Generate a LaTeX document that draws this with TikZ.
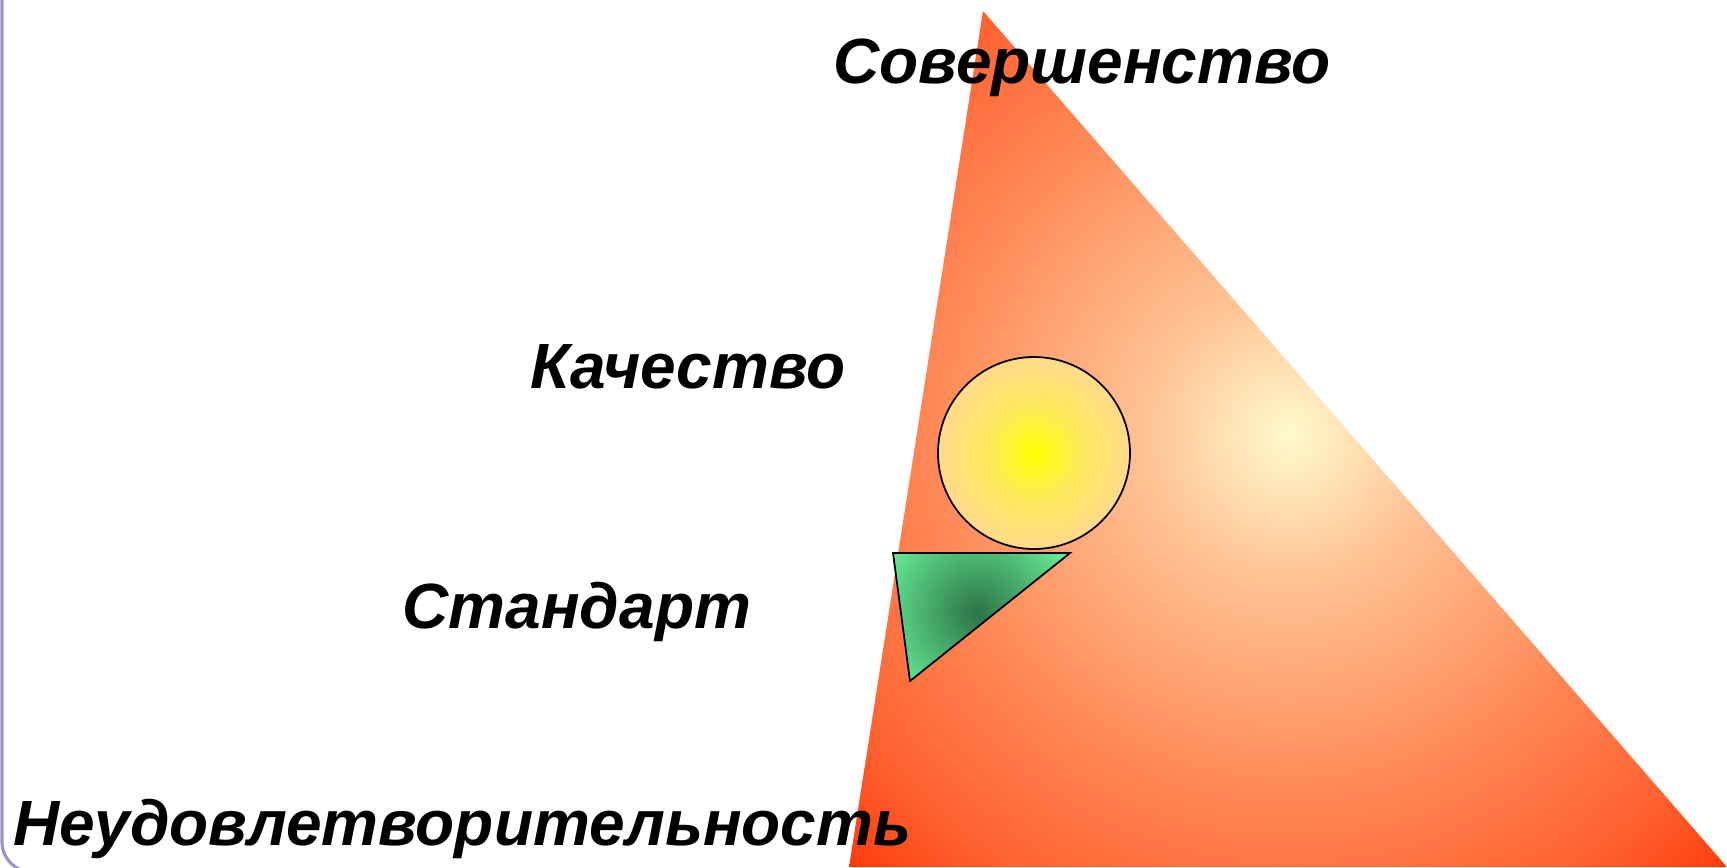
\documentclass[tikz,border=0pt]{standalone}
\usepackage{fontspec}
\setmainfont{Liberation Sans}
\usetikzlibrary{positioning}

\definecolor{glowA}{RGB}{255,250,205}
\definecolor{glowB}{RGB}{255,196,150}
\definecolor{glowC}{RGB}{255,136,86}
\definecolor{glowD}{RGB}{255,96,46}
\definecolor{glowE}{RGB}{255,58,10}
\definecolor{sunA}{RGB}{255,255,0}
\definecolor{sunB}{RGB}{255,234,90}
\definecolor{sunC}{RGB}{255,218,140}
\definecolor{leafA}{RGB}{45,115,70}
\definecolor{leafB}{RGB}{105,245,155}
\definecolor{framecol}{RGB}{150,150,200}

\pgfdeclareradialshading{bigglow}{\pgfpoint{0bp}{0bp}}{%
  color(0bp)=(glowA); color(5.6bp)=(glowB); color(14.5bp)=(glowC);
  color(21bp)=(glowD); color(25bp)=(glowE); color(50bp)=(glowE)}
\pgfdeclareradialshading{sunglow}{\pgfpoint{0bp}{0bp}}{%
  color(0bp)=(sunA); color(12bp)=(sunB); color(25bp)=(sunC); color(50bp)=(sunC)}
\pgfdeclareradialshading{leafglow}{\pgfpoint{0bp}{0bp}}{%
  color(0bp)=(leafA); color(25bp)=(leafB); color(50bp)=(leafB)}

\begin{document}
\begin{tikzpicture}[
    x=0.1mm, y=-0.1mm,
    levelname/.style={font=\fontsize{18.2}{22}\selectfont\bfseries\itshape,
                      anchor=base west, inner sep=0pt},
    outline/.style={draw=black, line width=0.5pt}
]
\useasboundingbox (0,0) rectangle (1727,867);

% ---- slide frame ----
\draw[framecol, line width=0.9pt, rounded corners=3mm] (2,-20) -- (2,872) -- (120,872);

% ---- big triangle ----
\coordinate (apex) at (983,11);
\coordinate (bl) at (849,867);
\coordinate (br) at (1727,867);
\begin{scope}
  \clip (apex) -- (br) -- (bl) -- cycle;
  \shade[shading=bigglow] (1289,435) circle (62mm);
\end{scope}

% ---- circle ----
\coordinate (sun) at (1034,453);
\shade[shading=sunglow] (sun) circle (9.6mm);
\draw[outline] (sun) circle (9.6mm);

% ---- small triangle ----
\coordinate (ta) at (893,553);
\coordinate (tb) at (1070,553);
\coordinate (tc) at (910,681);
\begin{scope}
  \clip (ta) -- (tb) -- (tc) -- cycle;
  \shade[shading=leafglow] (977,613) circle (11.2mm);
\end{scope}
\draw[outline, line join=miter] (ta) -- (tb) -- (tc) -- cycle;

% ---- level names ----
\node[levelname] (perfection) at (833,83) {Совершенство};
\node[levelname] (quality) at (530,388) {Качество};
\node[levelname] (standard) at (402,628) {Стандарт};
\node[levelname] (failure) at (13,845) {Неудовлетворительность};

\end{tikzpicture}
\end{document}
